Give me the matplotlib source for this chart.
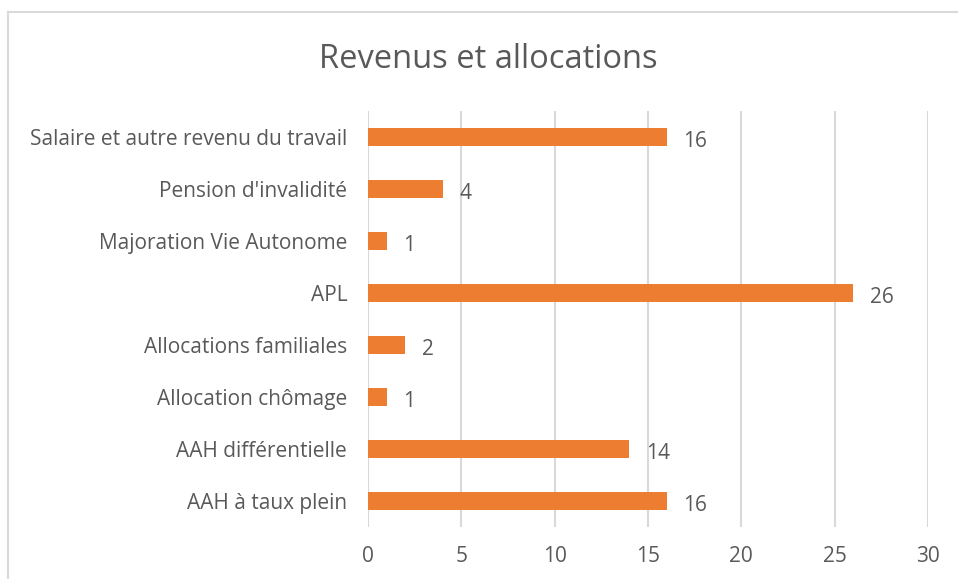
import matplotlib
matplotlib.use("Agg")
import matplotlib.pyplot as plt
from matplotlib.lines import Line2D

plt.rcParams['font.family'] = ['Open Sans', 'DejaVu Sans']

# Data (bottom to top, as drawn)
categories = [
    "AAH à taux plein",
    "AAH différentielle",
    "Allocation chômage",
    "Allocations familiales",
    "APL",
    "Majoration Vie Autonome",
    "Pension d'invalidité",
    "Salaire et autre revenu du travail",
]
values = [16, 14, 1, 2, 26, 1, 4, 16]
xticks = [0, 5, 10, 15, 20, 25, 30]

bar_color = "#ED7D31"
text_color = "#595959"
grid_color = "#D9D9D9"

fig = plt.figure(figsize=(9.58, 5.79), dpi=100)
ax = fig.add_axes([368 / 958, 1 - 527 / 579, 560 / 958, 416 / 579])

ypos = list(range(len(categories)))
bars = ax.barh(ypos, values, height=0.35, color=bar_color, zorder=3)

ax.set_xlim(0, 30)
ax.set_ylim(-0.5, len(categories) - 0.5)
ax.set_xticks(xticks)
ax.set_yticks(ypos)
ax.set_yticklabels(categories)
ax.tick_params(axis="both", length=0, labelsize=15, colors=text_color)
ax.tick_params(axis="y", pad=15)
ax.tick_params(axis="x", pad=14)
ax.grid(axis="x", color=grid_color, linewidth=1.5, zorder=0)
for s in ax.spines.values():
    s.set_visible(False)

# value labels
for b, v in zip(bars, values):
    ax.annotate(str(v), (b.get_width(), b.get_y() + b.get_height() / 2),
                xytext=(12, -3), textcoords="offset points",
                ha="left", va="center", fontsize=15, color=text_color)

fig.text(488 / 958, 1 - 60 / 579, "Revenus et allocations", ha="center", va="center",
         fontsize=23.5, color=text_color)

# chart border (top and left visible)
fig.add_artist(Line2D([8 / 958, 1], [1 - 12 / 579, 1 - 12 / 579], transform=fig.transFigure,
                      color=grid_color, linewidth=1.5))
fig.add_artist(Line2D([8 / 958, 8 / 958], [0, 1 - 12 / 579], transform=fig.transFigure,
                      color=grid_color, linewidth=1.5))

fig.savefig("out.png", dpi=100)
